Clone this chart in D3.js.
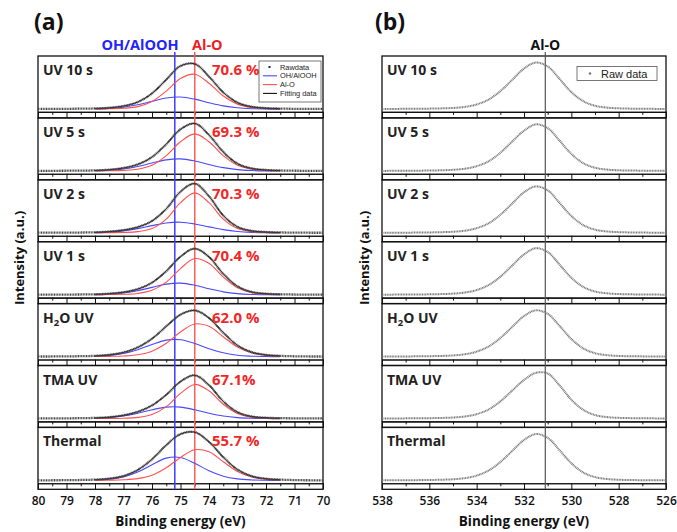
<!DOCTYPE html>
<html><head><meta charset="utf-8">
<script src="https://cdn.jsdelivr.net/npm/d3@7"></script>
<style>body{margin:0;background:#fff}svg{display:block}</style>
</head><body><svg id="c" width="677" height="532"></svg>
<script>
// ---------- data ----------
const samples = ["UV 10 s","UV 5 s","UV 2 s","UV 1 s","H2O UV","TMA UV","Thermal"];
const alOPercent = ["70.6 %","69.3 %","70.3 %","70.4 %","62.0 %","67.1%","55.7 %"];

// panel (a): Al 2p region
const energyA = [80,79.5,79,78.5,78,77.5,77,76.5,76,75.5,75,74.5,74,73.5,73,72.5,72,71.5,71,70.5,70];
const rawA = [
  [.010,.010,.012,.015,.020,.034,.070,.154,.333,.620,.904,.947,.684,.353,.143,.055,.027,.017,.012,.010,.009],
  [.010,.010,.012,.014,.019,.034,.069,.144,.297,.565,.875,.995,.757,.403,.160,.060,.028,.017,.012,.010,.009],
  [.010,.010,.011,.014,.019,.034,.065,.128,.254,.507,.865,1.033,.768,.369,.133,.049,.025,.016,.012,.010,.009],
  [.010,.010,.011,.013,.017,.031,.061,.126,.260,.499,.802,.967,.796,.444,.183,.066,.029,.018,.012,.010,.009],
  [.011,.011,.013,.017,.024,.046,.096,.201,.382,.638,.883,.970,.812,.508,.242,.101,.044,.024,.015,.011,.010],
  [.010,.010,.012,.015,.021,.036,.075,.149,.281,.502,.778,.908,.703,.366,.141,.050,.024,.016,.012,.010,.009],
  [.011,.011,.013,.017,.025,.046,.101,.227,.448,.743,.973,1.013,.812,.493,.235,.097,.043,.025,.015,.011,.010]
];
const energyFit = [78,77.5,77,76.5,76,75.5,75,74.5,74,73.5,73,72.5,72,71.5];
const ohAlOOH = [
  [.010,.020,.046,.096,.169,.238,.259,.214,.139,.073,.033,.015,.008,.005],
  [.010,.022,.049,.100,.172,.238,.259,.215,.141,.076,.035,.016,.008,.005],
  [.011,.023,.049,.096,.158,.213,.229,.193,.132,.075,.037,.017,.009,.005],
  [.009,.019,.044,.091,.161,.229,.249,.205,.132,.068,.031,.014,.007,.005],
  [.015,.033,.074,.153,.260,.352,.361,.283,.172,.087,.035,.017,.010,.006],
  [.013,.027,.060,.118,.190,.246,.246,.190,.118,.060,.027,.013,.007,.005],
  [.016,.033,.080,.182,.333,.473,.487,.365,.209,.096,.040,.018,.011,.008]
];
const alO = [
  [.010,.014,.024,.058,.164,.382,.645,.733,.545,.280,.110,.040,.019,.012],
  [.009,.012,.020,.044,.125,.327,.616,.780,.616,.327,.125,.044,.020,.012],
  [.008,.011,.016,.032,.096,.294,.636,.840,.636,.294,.096,.032,.016,.011],
  [.008,.012,.017,.035,.099,.270,.553,.762,.664,.376,.152,.052,.022,.013],
  [.009,.013,.022,.048,.122,.286,.522,.687,.640,.421,.207,.084,.034,.018],
  [.008,.009,.015,.031,.091,.256,.532,.718,.585,.306,.114,.037,.017,.011],
  [.009,.013,.021,.045,.115,.270,.486,.648,.603,.397,.195,.079,.032,.017]
];
const refLinesA = [75.2, 74.5];   // OH/AlOOH, Al-O
const ticksA = [80,79,78,77,76,75,74,73,72,71,70];

// panel (b): O 1s region
const energyB = [538,537.5,537,536.5,536,535.5,535,534.5,534,533.5,533,532.5,532,531.5,531,530.5,530,529.5,529,528.5,528,527.5,527,526.5,526];
const rawB = [
  [.008,.010,.012,.013,.016,.021,.030,.052,.103,.204,.380,.614,.850,.976,.896,.636,.361,.172,.075,.037,.022,.016,.013,.011,.009],
  [.008,.010,.011,.013,.016,.021,.031,.054,.106,.208,.386,.620,.845,.978,.900,.640,.362,.170,.074,.036,.021,.016,.013,.011,.009],
  [.008,.009,.011,.013,.016,.021,.030,.052,.104,.206,.384,.618,.852,.975,.893,.632,.358,.170,.074,.036,.022,.016,.013,.011,.009],
  [.008,.010,.012,.013,.016,.021,.031,.053,.105,.207,.383,.615,.848,.977,.898,.638,.360,.171,.075,.037,.022,.016,.013,.011,.009],
  [.009,.010,.012,.014,.017,.022,.033,.057,.112,.218,.395,.626,.852,.972,.900,.650,.375,.180,.079,.038,.022,.016,.013,.011,.009],
  [.008,.009,.011,.013,.015,.020,.029,.050,.098,.195,.365,.590,.810,.960,.945,.700,.400,.190,.080,.038,.022,.016,.013,.011,.009],
  [.009,.010,.012,.014,.017,.022,.032,.055,.108,.212,.390,.622,.850,.974,.896,.640,.366,.175,.077,.037,.022,.016,.013,.011,.009]
];
const refLineB = 531.1;
const ticksB = [538,536,534,532,530,528,526];

// ---------- layout ----------
const svg = d3.select("#c");
const FONT = "'Open Sans','Noto Sans',Arial,sans-serif";
const boxTop = 56, boxH = 61.9, strip = 6, unit = 48, nBox = samples.length;
const bottom = boxTop + boxH * nBox;
const xA = d3.scaleLinear().domain([80,70]).range([38,323]);
const xB = d3.scaleLinear().domain([538,526]).range([382,666]);
const yFor = i => {
  const axisY = boxTop + (i+1)*boxH - strip;
  return d3.scaleLinear().domain([0,1]).range([axisY-2.5, axisY-2.5-unit]);
};

function frames(x, major, minor) {
  const g = svg.append("g");
  for (let i = 0; i < nBox; i++) {
    const top = boxTop + i*boxH, axisY = top + boxH - strip;
    g.append("rect").attr("x", x.range()[0]).attr("y", top)
      .attr("width", x.range()[1]-x.range()[0]).attr("height", boxH)
      .attr("fill","none").attr("stroke","#111").attr("stroke-width",1.3);
    const aMaj = g.append("g").attr("transform",`translate(0,${axisY})`)
      .call(d3.axisBottom(x).tickValues(major).tickSize(6).tickSizeOuter(0).tickFormat(""));
    const aMin = g.append("g").attr("transform",`translate(0,${axisY})`)
      .call(d3.axisBottom(x).tickValues(minor).tickSize(3).tickSizeOuter(0).tickFormat(""));
    [aMaj,aMin].forEach(a => { a.select(".domain").attr("stroke","#111").attr("stroke-width",1.1); a.selectAll(".tick line").attr("stroke","#111").attr("stroke-width",1); });
  }
  const lab = svg.append("g").attr("transform",`translate(0,${bottom})`)
    .call(d3.axisBottom(x).tickValues(major).tickSize(0).tickPadding(7.5).tickFormat(d3.format("d")));
  lab.select(".domain").remove();
  lab.selectAll("text").attr("font-family",FONT).attr("font-size",12).attr("font-weight",600).attr("fill","#111");
}

const minorA = [79.5,78.5,77.5,76.5,75.5,74.5,73.5,72.5,71.5,70.5];
const minorB = [537,535,533,531,529,527];
frames(xA, ticksA, minorA);
frames(xB, ticksB, minorB);

const curve = d3.curveCatmullRom.alpha(0.5);

// reference lines
refLinesA.forEach((e,k) => {
  svg.append("line").attr("x1",xA(e)).attr("x2",xA(e)).attr("y1",52).attr("y2",bottom)
    .attr("stroke", k===0 ? "#3d3dff" : "#ff5c5c").attr("stroke-width",1.5);
});
svg.append("line").attr("x1",xB(refLineB)).attr("x2",xB(refLineB)).attr("y1",52).attr("y2",bottom)
  .attr("stroke","#555").attr("stroke-width",1.2);

// panel a curves
for (let i = 0; i < nBox; i++) {
  const y = yFor(i);
  const raw = energyA.map((e,j) => [e, rawA[i][j]]);
  const oh = energyFit.map((e,j) => [e, ohAlOOH[i][j]]);
  const al = energyFit.map((e,j) => [e, alO[i][j]]);
  const fit = energyFit.map((e,j) => [e, ohAlOOH[i][j] + alO[i][j]]);
  const line = d3.line().x(d => xA(d[0])).y(d => y(d[1])).curve(curve);
  svg.append("path").attr("d", line(oh)).attr("fill","none").attr("stroke","#4848ff").attr("stroke-width",1.1);
  svg.append("path").attr("d", line(al)).attr("fill","none").attr("stroke","#ff5050").attr("stroke-width",1.1);
  svg.append("path").attr("d", line(fit)).attr("fill","none").attr("stroke","#111").attr("stroke-width",1);
  svg.append("path").attr("d", line(raw)).attr("fill","none").attr("stroke","#444")
    .attr("stroke-width",2.3).attr("stroke-dasharray","1 0.6");

  // panel b
  const yb = yFor(i);
  const lineB = d3.line().x(d => xB(d[0])).y(d => yb(d[1])).curve(curve);
  svg.append("path").attr("d", lineB(energyB.map((e,j)=>[e, rawB[i][j]]))).attr("fill","none")
    .attr("stroke","#777").attr("stroke-width",2).attr("stroke-dasharray","1 0.6");
}

// sample labels
function sampleLabel(x, i) {
  const top = boxTop + i*boxH;
  const t = svg.append("text").attr("x",x).attr("y",top+19).attr("font-family",FONT)
    .attr("font-size",14).attr("font-weight",700).attr("fill","#222");
  if (samples[i].startsWith("H2O")) {
    t.append("tspan").text("H");
    t.append("tspan").text("2").attr("font-size",9.5).attr("dy",3.5);
    t.append("tspan").text("O UV").attr("dy",-3.5);
  } else t.text(samples[i]);
}
for (let i = 0; i < nBox; i++) {
  sampleLabel(43, i);
  sampleLabel(387, i);
  svg.append("text").attr("x",212).attr("y",boxTop + i*boxH + 19).attr("font-family",FONT)
    .attr("font-size",15).attr("font-weight",700).attr("fill","#f02828").text(alOPercent[i]);
}

// legend a
const lg = svg.append("g");
lg.append("rect").attr("x",259).attr("y",61).attr("width",62).attr("height",41)
  .attr("fill","#fff").attr("stroke","#555").attr("stroke-width",0.8);
const legA = [["Rawdata","dot","#222"],["OH/AlOOH","line","#4848ff"],["Al-O","line","#ff5050"],["Fitting data","line","#111"]];
legA.forEach((d,k) => {
  const cy = 67 + k*8.8;
  if (d[1]==="dot") lg.append("rect").attr("x",268.5).attr("y",cy-1).attr("width",2).attr("height",2).attr("fill",d[2]);
  else lg.append("line").attr("x1",263).attr("x2",277).attr("y1",cy).attr("y2",cy).attr("stroke",d[2]).attr("stroke-width",1.1);
  lg.append("text").attr("x",280).attr("y",cy+2.6).attr("font-family","Arial,'Liberation Sans',sans-serif")
    .attr("font-size",7.4).attr("fill","#222").text(d[0]);
});

// legend b
const lb = svg.append("g");
lb.append("rect").attr("x",577).attr("y",66.5).attr("width",80).attr("height",14)
  .attr("fill","#fff").attr("stroke","#555").attr("stroke-width",0.8);
lb.append("circle").attr("cx",590).attr("cy",73.5).attr("r",1.3).attr("fill","#777");
lb.append("text").attr("x",601).attr("y",77.5).attr("font-family","Arial,'Liberation Sans',sans-serif")
  .attr("font-size",11).attr("fill","#222").text("Raw data");

// titles
const title = (x,y,txt,size,col,anchor) => svg.append("text").attr("x",x).attr("y",y)
  .attr("font-family",FONT).attr("font-size",size).attr("font-weight",700).attr("fill",col)
  .attr("text-anchor",anchor||"start").text(txt);
title(34,30,"(a)",23,"#111");
title(375,30,"(b)",23,"#111");
title(140,50,"OH/AlOOH",14.5,"#2222ff","middle");
title(192,50,"Al-O",14.5,"#ee1c25");
title(xB(refLineB),50,"Al-O",14,"#111","middle");
title(180.5,526,"Binding energy (eV)",13.5,"#111","middle");
title(524,526,"Binding energy (eV)",13.5,"#111","middle");
svg.append("text").attr("transform","translate(24,258) rotate(-90)").attr("text-anchor","middle")
  .attr("font-family",FONT).attr("font-size",13).attr("font-weight",700).attr("fill","#111").text("Intensity (a.u.)");
svg.append("text").attr("transform","translate(369,258) rotate(-90)").attr("text-anchor","middle")
  .attr("font-family",FONT).attr("font-size",13).attr("font-weight",700).attr("fill","#111").text("Intensity (a.u.)");
</script></body></html>
